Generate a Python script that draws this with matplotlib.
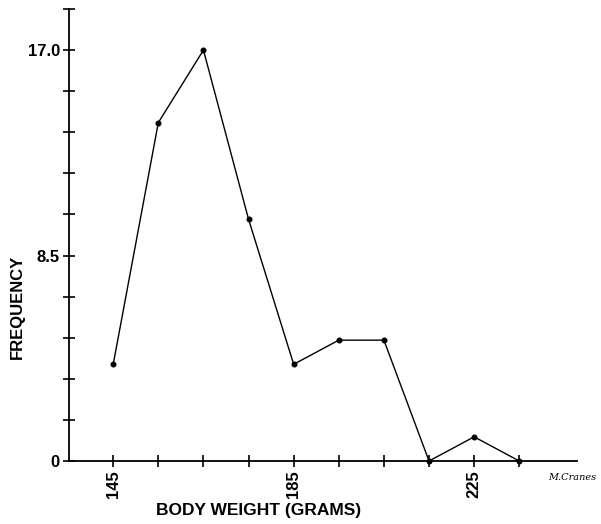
import matplotlib.pyplot as plt
import numpy as np

# frequency polygon of body weights
weights = [145, 155, 165, 175, 185, 195, 205, 215, 225, 235]
freq = [4, 14, 17, 10, 4, 5, 5, 0, 1, 0]

y_ticks = np.arange(0, 18.71, 1.7)
y_labels = {0: '0', 5: '8.5', 10: '17.0'}
x_ticks = np.arange(145, 236, 10)
x_labels = {145: '145', 185: '185', 225: '225'}

plt.rcParams['font.family'] = ['Liberation Sans', 'DejaVu Sans']

fig = plt.figure(figsize=(6.01, 5.24), dpi=100)
ax = fig.add_axes([69 / 601, 1 - 461 / 524, (577 - 69) / 601, (461 - 9) / 524])

ax.plot(weights, freq, color='black', lw=1.0, marker='o', ms=3.3, clip_on=False)

ax.set_xlim(135.2, 247.8)
ax.set_ylim(0, 18.7)
for s in ['top', 'right']:
    ax.spines[s].set_visible(False)
for s in ['left', 'bottom']:
    ax.spines[s].set_linewidth(1.3)

ax.set_yticks(y_ticks)
ax.set_yticklabels([y_labels.get(i, '') for i in range(len(y_ticks))],
                   fontsize=12, fontweight='bold')
ax.set_xticks(x_ticks)
ax.set_xticklabels([x_labels.get(int(v), '') for v in x_ticks],
                   rotation=90, fontsize=12, fontweight='bold')
ax.tick_params(direction='inout', length=9, width=1.2, pad=2)

fig.text(17 / 601, 1 - 307 / 524, 'FREQUENCY', rotation=90, ha='center',
         va='center', fontsize=12, fontweight='bold')
fig.text(259 / 601, 1 - 510 / 524, 'BODY WEIGHT (GRAMS)', ha='center',
         va='center', fontsize=12.5, fontweight='bold')
fig.text(548 / 601, 1 - 478 / 524, 'M.Cranes', ha='left', va='center',
         fontsize=7, fontstyle='italic', family='DejaVu Serif')

fig.savefig('out.png', dpi=100)
